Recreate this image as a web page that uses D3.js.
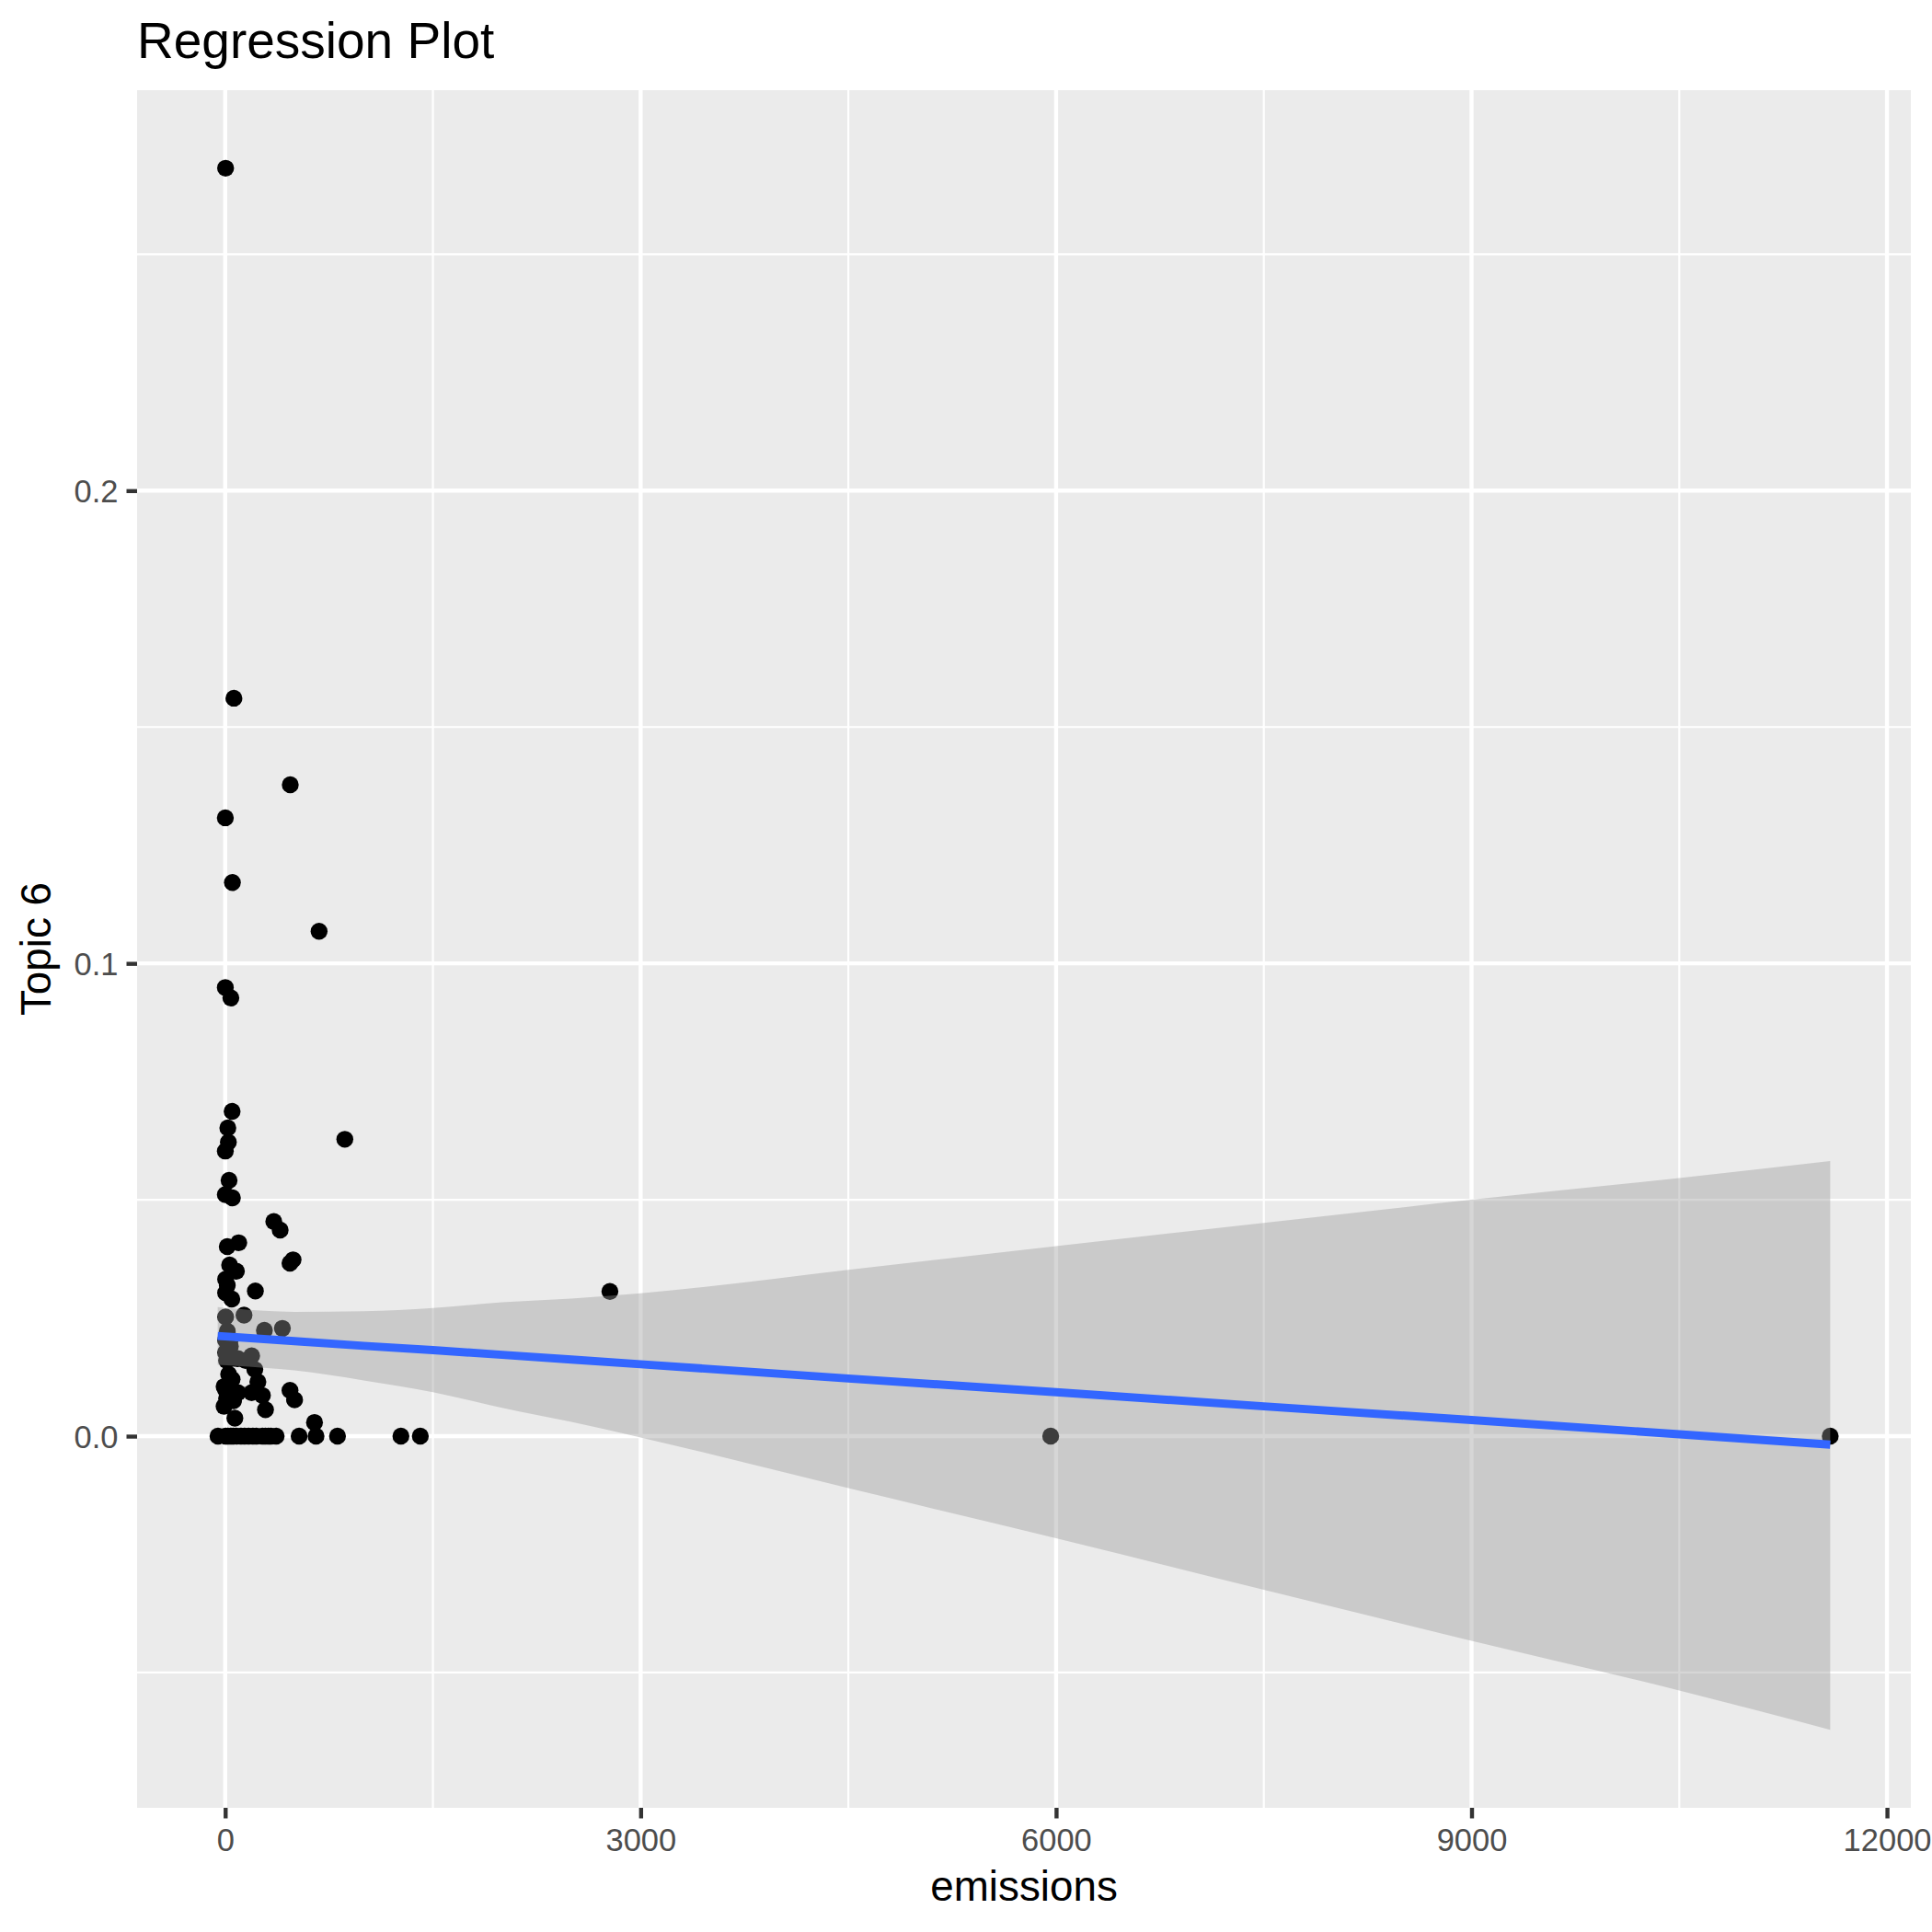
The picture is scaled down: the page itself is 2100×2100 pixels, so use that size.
<!DOCTYPE html>
<html>
<head>
<meta charset="utf-8">
<script src="https://cdn.jsdelivr.net/npm/d3@7"></script>
<style>
  html, body { margin: 0; padding: 0; background: #ffffff; }
  svg { display: block; }
</style>
</head>
<body>
<script>
// ---- data ----
const emissions = [
  3, 63, 470, 1, 52, 678, 1, 41, 50, 19, 23, 1, 864, 28, 1, 52, 351, 397, 98, 15,
  468, 490, 32, 81, 3, 15, 218, 3, 48, 2778,
  3, 136, 413, 283, 15, 37, 3, 37, 3, 92, 191, 147, 60, 10,
  25, 214, 236, -8, 3, 191, 269, 92, 468, 501, -8, 291, 70, 645, 50, 10, 60,
  -52, 3, 58, 114, 169, 225, 269, 313, 368, 534, 656, 811, 1269, 1409, 5961, 11590,
  20, 40, 80, 140, 200, 290, 330
];
const topic6 = [
  0.2682, 0.1561, 0.1378, 0.1308, 0.1171, 0.1068, 0.0949, 0.0927, 0.0687, 0.0652,
  0.0622, 0.0603, 0.0628, 0.0541, 0.0511, 0.0504, 0.0454, 0.0436, 0.0409, 0.0401,
  0.0366, 0.0373, 0.0362, 0.0349, 0.0332, 0.0319, 0.0307, 0.0303, 0.0290, 0.0306,
  0.0252, 0.0256, 0.0228, 0.0224, 0.0222, 0.0205, 0.0203, 0.0190, 0.0177, 0.0164,
  0.0170, 0.0160, 0.0165, 0.0160,
  0.0131, 0.0141, 0.0115, 0.0105, 0.0098, 0.0092, 0.0086, 0.0092, 0.0097, 0.0077,
  0.0063, 0.0056, 0.0038, 0.0029, 0.0120, 0.0080, 0.0075,
  0, 0, 0, 0, 0, 0, 0, 0, 0, 0, 0, 0, 0, 0, 0, 0,
  0, 0, 0, 0, 0, 0, 0
];

// fitted line and confidence band (geom_smooth, method = "lm")
const fitX     = [-54, 500, 1000, 1500, 2000, 2500, 3000, 4500, 6000, 7500, 9000, 10500, 11590];
const fitY     = [0.0212, 0.0201, 0.0191, 0.0182, 0.0172, 0.0162, 0.0152, 0.0122, 0.0093, 0.0063, 0.0034, 0.0004, -0.0018];
const fitUpper = [0.0273, 0.0263, 0.0264, 0.0271, 0.0283, 0.0291, 0.0302, 0.0352, 0.0402, 0.0451, 0.0500, 0.0546, 0.0582];
const fitLower = [0.0151, 0.0139, 0.0118, 0.0093, 0.0060, 0.0030, -0.0003, -0.0110, -0.0216, -0.0325, -0.0433, -0.0538, -0.0621];

const xTicks = [0, 3000, 6000, 9000, 12000];
const xMinor = [1500, 4500, 7500, 10500];
const yTicks = [0.0, 0.1, 0.2];
const yMinor = [-0.05, 0.05, 0.15, 0.25];

const titleText = "Regression Plot";
const xLabel = "emissions";
const yLabel = "Topic 6";

// ---- layout ----
const W = 2100, H = 2100;
const panel = { left: 149, right: 2077, top: 98, bottom: 1965 };
const FONT = "'Liberation Sans', Arial, Helvetica, sans-serif";

const points = emissions.map((e, i) => ({ x: e, y: topic6[i] }));
const band = fitX.map((x, i) => ({ x, y: fitY[i], lo: fitLower[i], hi: fitUpper[i] }));

function expand(ext) {
  const w = ext[1] - ext[0];
  return [ext[0] - 0.05 * w, ext[1] + 0.05 * w];
}
const xExt = d3.extent(emissions.concat(fitX));
const yExt = d3.extent(topic6.concat(fitLower, fitUpper));

const x = d3.scaleLinear().domain(expand(xExt)).range([panel.left, panel.right]);
const y = d3.scaleLinear().domain(expand(yExt)).range([panel.bottom, panel.top]);

const svg = d3.select("body").append("svg")
  .attr("width", W).attr("height", H)
  .attr("viewBox", `0 0 ${W} ${H}`);

svg.append("rect").attr("width", W).attr("height", H).attr("fill", "#ffffff");

// panel background
svg.append("rect")
  .attr("x", panel.left).attr("y", panel.top)
  .attr("width", panel.right - panel.left).attr("height", panel.bottom - panel.top)
  .attr("fill", "#EBEBEB");

const grid = svg.append("g");
// minor grid
grid.selectAll("line.xminor").data(xMinor).join("line")
  .attr("x1", d => x(d)).attr("x2", d => x(d))
  .attr("y1", panel.top).attr("y2", panel.bottom)
  .attr("stroke", "#ffffff").attr("stroke-width", 2.2);
grid.selectAll("line.yminor").data(yMinor).join("line")
  .attr("y1", d => y(d)).attr("y2", d => y(d))
  .attr("x1", panel.left).attr("x2", panel.right)
  .attr("stroke", "#ffffff").attr("stroke-width", 2.2);
// major grid
grid.selectAll("line.xmajor").data(xTicks).join("line")
  .attr("x1", d => x(d)).attr("x2", d => x(d))
  .attr("y1", panel.top).attr("y2", panel.bottom)
  .attr("stroke", "#ffffff").attr("stroke-width", 4.4);
grid.selectAll("line.ymajor").data(yTicks).join("line")
  .attr("y1", d => y(d)).attr("y2", d => y(d))
  .attr("x1", panel.left).attr("x2", panel.right)
  .attr("stroke", "#ffffff").attr("stroke-width", 4.4);

// points
svg.append("g").selectAll("circle").data(points).join("circle")
  .attr("cx", d => x(d.x)).attr("cy", d => y(d.y))
  .attr("r", 9.2)
  .attr("fill", "#000000");

// confidence band
const area = d3.area()
  .x(d => x(d.x)).y0(d => y(d.lo)).y1(d => y(d.hi))
  .curve(d3.curveMonotoneX);
svg.append("path").datum(band)
  .attr("d", area)
  .attr("fill", "#999999").attr("fill-opacity", 0.4);

// fitted line
const line = d3.line().x(d => x(d.x)).y(d => y(d.y));
svg.append("path").datum(band)
  .attr("d", line)
  .attr("fill", "none").attr("stroke", "#3366FF").attr("stroke-width", 8.9)
  .attr("stroke-linecap", "butt");

// axes
const xAxis = d3.axisBottom(x).tickValues(xTicks).tickSize(11.5).tickPadding(9)
  .tickFormat(d3.format("d"));
const gx = svg.append("g").attr("transform", `translate(0,${panel.bottom})`).call(xAxis);
gx.select(".domain").remove();
gx.selectAll(".tick line").attr("stroke", "#333333").attr("stroke-width", 4.4);
gx.selectAll(".tick text")
  .attr("fill", "#4D4D4D").attr("font-family", FONT).attr("font-size", 34.5)
  .attr("dy", null).attr("y", 47);

const yAxis = d3.axisLeft(y).tickValues(yTicks).tickSize(11.5).tickPadding(9)
  .tickFormat(d3.format(".1f"));
const gy = svg.append("g").attr("transform", `translate(${panel.left},0)`).call(yAxis);
gy.select(".domain").remove();
gy.selectAll(".tick line").attr("stroke", "#333333").attr("stroke-width", 4.4);
gy.selectAll(".tick text")
  .attr("fill", "#4D4D4D").attr("font-family", FONT).attr("font-size", 34.5)
  .attr("dy", "0.36em");

// titles
svg.append("text")
  .attr("x", 149).attr("y", 63)
  .attr("font-family", FONT).attr("font-size", 55).attr("fill", "#000000")
  .text(titleText);

svg.append("text")
  .attr("x", (panel.left + panel.right) / 2).attr("y", 2066)
  .attr("text-anchor", "middle")
  .attr("font-family", FONT).attr("font-size", 45.8).attr("fill", "#000000")
  .text(xLabel);

svg.append("text")
  .attr("transform", `translate(55,${(panel.top + panel.bottom) / 2}) rotate(-90)`)
  .attr("text-anchor", "middle")
  .attr("font-family", FONT).attr("font-size", 45.8).attr("fill", "#000000")
  .text(yLabel);
</script>
</body>
</html>
